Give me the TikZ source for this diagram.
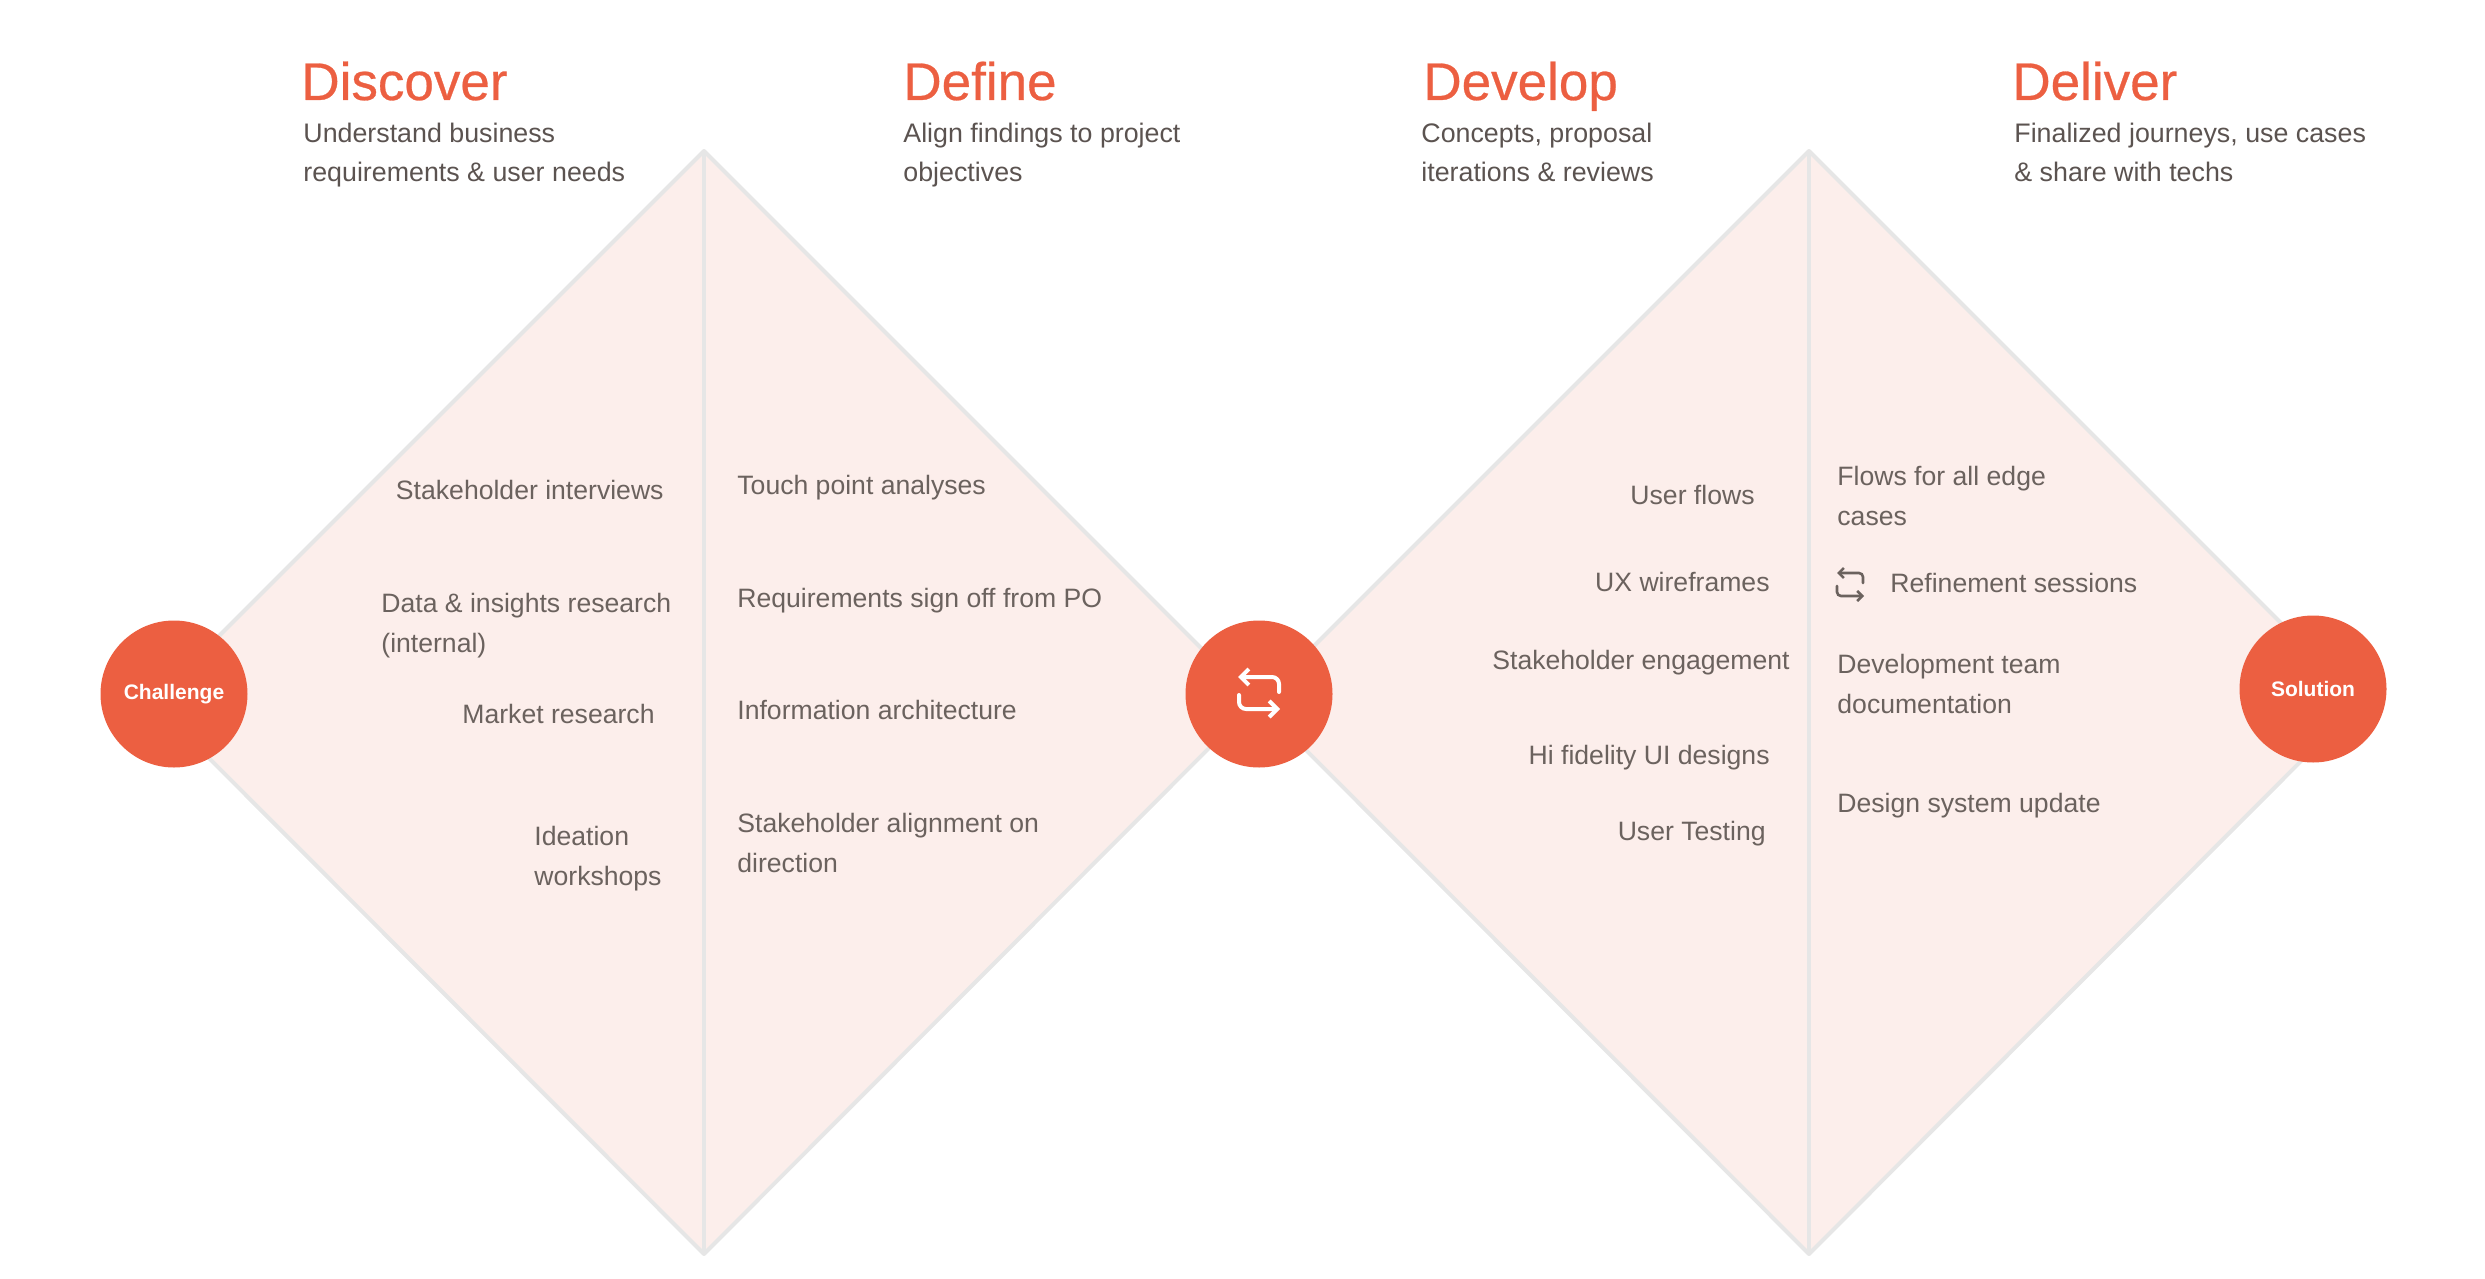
\documentclass[tikz,border=0pt]{standalone}
\usepackage{fontspec}
\setmainfont{Liberation Sans}
\newfontfamily\phasefont[FakeBold=0.5]{Liberation Sans}
\usetikzlibrary{arrows.meta}
\definecolor{accent}{HTML}{EC5F41}
\definecolor{textgray}{HTML}{6B625E}
\definecolor{petal}{HTML}{FCEEEB}
\definecolor{edgegray}{HTML}{E6E6E6}
\tikzset{
	phase/.style={anchor=base west, inner sep=0pt, text=accent, font=\phasefont\fontsize{26.5}{30}\selectfont},
	blurb/.style={anchor=base west, inner sep=0pt, align=left, text=textgray!85!black, font=\fontsize{13.4}{20}\selectfont},
	item/.style={inner sep=0pt, align=left, text=textgray, font=\fontsize{13.3}{20}\selectfont},
	hub/.style={circle, fill=accent, minimum size=73.5pt, inner sep=0pt, text=white, font=\bfseries\fontsize{10.5}{12}\selectfont},
	loopline/.style={line cap=round, rounded corners=3.5pt},
}
\begin{document}
\begin{tikzpicture}[x=0.5pt, y=-0.5pt]
	\useasboundingbox (0, 0) rectangle (2485, 1279);
	% diamonds
	\fill[petal] (704, 151) -- (1255, 702) -- (704, 1254) -- (153, 702) -- cycle;
	\fill[petal] (1809, 151) -- (2360, 702) -- (1809, 1254) -- (1258, 702) -- cycle;
	\draw[edgegray, line width=2pt] (704, 151) -- (704, 1254);
	\draw[edgegray, line width=2pt] (1809, 151) -- (1809, 1254);
	\draw[edgegray, line width=2pt, line join=round] (704, 151) -- (1255, 702) -- (704, 1254) -- (153, 702) -- cycle;
	\draw[edgegray, line width=2pt, line join=round] (1809, 151) -- (2360, 702) -- (1809, 1254) -- (1258, 702) -- cycle;
	% circles
	\node[hub] (challenge) at (174, 694) {Challenge};
	\node[hub] (loop) at (1259, 694) {};
	\node[hub] (solution) at (2313, 689) {Solution};
	\draw[white, line width=2pt, loopline, -{Straight Barb[length=4pt, width=8pt]}] (1279, 692) -- (1279, 677) -- (1238, 677);
	\draw[white, line width=2pt, loopline, -{Straight Barb[length=4pt, width=8pt]}] (1239, 695) -- (1239, 709) -- (1280, 709);
	% headings
	\node[phase] (discover) at (301, 100) {Discover};
	\node[phase] (define) at (903, 100) {Define};
	\node[phase] (develop) at (1423, 100) {Develop};
	\node[phase] (deliver) at (2012, 100) {Deliver};
	\node[blurb] (discovertxt) at (303, 182) {Understand business\\requirements \& user needs};
	\node[blurb] (definetxt) at (903, 182) {Align findings to project\\objectives};
	\node[blurb] (developtxt) at (1421, 182) {Concepts, proposal\\iterations \& reviews};
	\node[blurb] (delivertxt) at (2014, 182) {Finalized journeys, use cases\\\& share with techs};
	% discover
	\node[item, anchor=base east] (interviews) at (664, 499) {Stakeholder interviews};
	\node[item, anchor=base west] (insights) at (381, 652) {Data \& insights research\\(internal)};
	\node[item, anchor=base east] (market) at (655, 723) {Market research};
	\node[item, anchor=base west] (ideation) at (534, 885) {Ideation\\workshops};
	% define
	\node[item, anchor=base west] (touch) at (737, 494) {Touch point analyses};
	\node[item, anchor=base west] (signoff) at (737, 607) {Requirements sign off from PO};
	\node[item, anchor=base west] (infoarch) at (737, 719) {Information architecture};
	\node[item, anchor=base west] (alignment) at (737, 872) {Stakeholder alignment on\\direction};
	% develop
	\node[item, anchor=base east] (userflows) at (1755, 504) {User flows};
	\node[item, anchor=base east] (wireframes) at (1770, 591) {UX wireframes};
	\node[item, anchor=base east] (engagement) at (1790, 669) {Stakeholder engagement};
	\node[item, anchor=base east] (hifi) at (1770, 764) {Hi fidelity UI designs};
	\node[item, anchor=base east] (testing) at (1766, 840) {User Testing};
	% deliver
	\node[item, anchor=base west] (edgecases) at (1837, 525) {Flows for all edge\\cases};
	\node[item, anchor=base west] (refinement) at (1890, 592) {Refinement sessions};
	\node[item, anchor=base west] (devdocs) at (1837, 713) {Development team\\documentation};
	\node[item, anchor=base west] (designsys) at (1837, 812) {Design system update};
	\draw[textgray, line width=1.3pt, loopline, rounded corners=2pt, -{Straight Barb[length=2.5pt, width=5pt]}] (1863, 583) -- (1863, 573) -- (1837, 573);
	\draw[textgray, line width=1.3pt, loopline, rounded corners=2pt, -{Straight Barb[length=2.5pt, width=5pt]}] (1837, 586) -- (1837, 596) -- (1864, 596);
\end{tikzpicture}
\end{document}
